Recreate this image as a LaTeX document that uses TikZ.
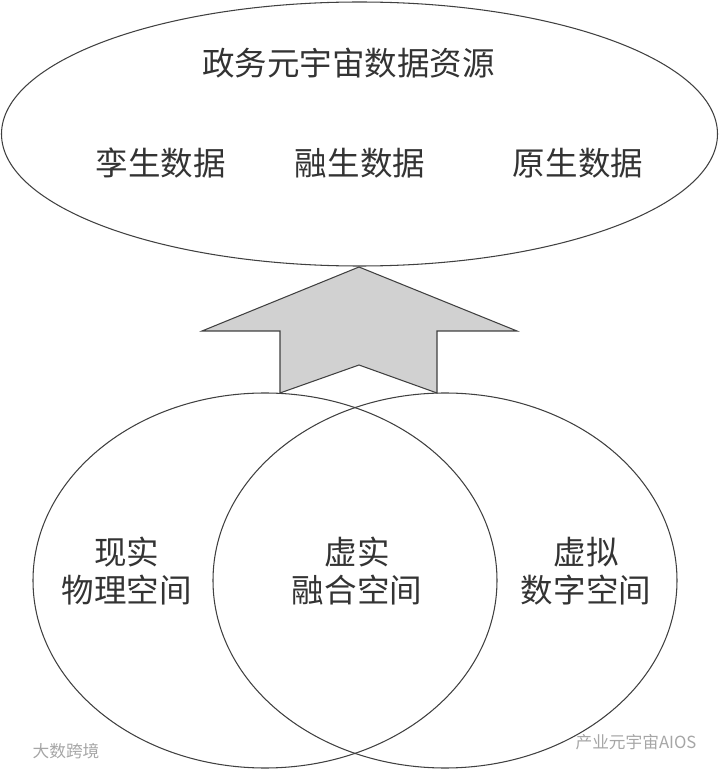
\documentclass[tikz,border=0pt]{standalone}
\usepackage{fontspec}
\usepackage{tikz}
\usetikzlibrary{shapes.geometric}
\newfontfamily\cjk{Noto Sans CJK SC}

\begin{document}
\begin{tikzpicture}[font=\cjk\fontsize{18.5}{21.6}\selectfont, line width=0.6pt,
  rim/.style={draw=black!75, ellipse, inner sep=0pt},
  lbl/.style={align=center, text=black!80},
  znak/.style={text=black!35, font=\cjk\fontsize{9.5}{11}\selectfont}]
  \useasboundingbox (0,0) rectangle (14.38,15.46);
  \node[rim, minimum width=14.32cm, minimum height=5.28cm] (zasoby) at (7.19,12.78) {};
  \node[lbl] (tytul) at (6.97,14.2) {政务元宇宙数据资源};
  \node[lbl] (luan) at (3.22,12.2) {孪生数据};
  \node[lbl] (rong) at (7.2,12.2) {融生数据};
  \node[lbl] (yuan) at (11.56,12.2) {原生数据};
  \draw[draw=black!75, fill=black!18, line join=miter]
    (7.18,10.12) -- (10.34,8.84) -- (8.74,8.84) -- (8.74,7.6) -- (7.18,8.16)
    -- (5.6,7.6) -- (5.6,8.84) -- (4.04,8.84) -- cycle;
  \node[rim, minimum width=9.28cm, minimum height=7.5cm] (fiz) at (5.3,3.85) {};
  \node[rim, minimum width=9.28cm, minimum height=7.5cm] (cyf) at (8.9,3.85) {};
  \node[lbl] (xianshi) at (2.54,4.04) {现实\\物理空间};
  \node[lbl] (xushi) at (7.14,4.04) {虚实\\融合空间};
  \node[lbl] (xuni) at (11.72,4.04) {虚拟\\数字空间};
  \node[znak] (znak1) at (1.32,0.44) {大数跨境};
  \node[znak] (znak2) at (12.72,0.62) {产业元宇宙AIOS};
\end{tikzpicture}
\end{document}
